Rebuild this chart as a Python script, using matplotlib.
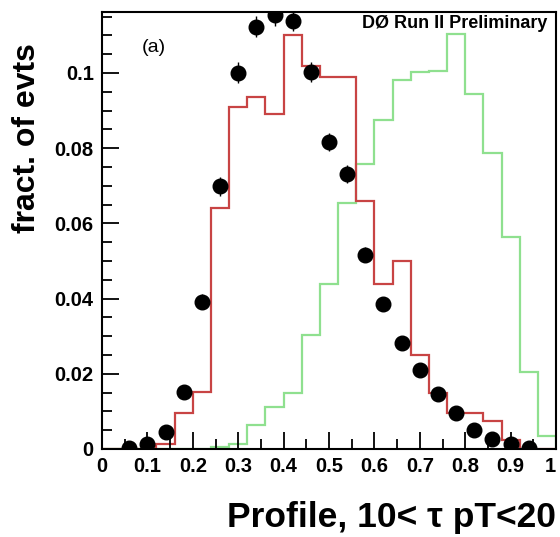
import numpy as np
import matplotlib
matplotlib.use("Agg")
import matplotlib.pyplot as plt
from matplotlib.ticker import MultipleLocator, FixedLocator

# ---- data ----
bin_edges = np.linspace(0.0, 1.0, 26)           # 25 bins of width 0.04
red_hist = [0.0, 0.0, 0.0, 0.0013, 0.0095, 0.0151, 0.0640, 0.0909, 0.0937, 0.0891,
            0.1101, 0.1019, 0.0990, 0.0990, 0.0660, 0.0439, 0.0501, 0.0250, 0.0148,
            0.0095, 0.0095, 0.0075, 0.0024, 0.0, 0.0]
green_hist = [0.0, 0.0, 0.0, 0.0, 0.0, 0.0, 0.0005, 0.0013, 0.0064, 0.0111,
              0.0148, 0.0303, 0.0439, 0.0653, 0.0758, 0.0875, 0.0981, 0.1002, 0.1006,
              0.1104, 0.0944, 0.0786, 0.0563, 0.0206, 0.0035]
pts_x = [0.06, 0.10, 0.14, 0.18, 0.22, 0.26, 0.30, 0.34, 0.38, 0.42, 0.46, 0.50,
         0.54, 0.58, 0.62, 0.66, 0.70, 0.74, 0.78, 0.82, 0.86, 0.90, 0.94]
pts_y = [0.0003, 0.0013, 0.0046, 0.0151, 0.0392, 0.0699, 0.1001, 0.1123, 0.1154,
         0.1139, 0.1003, 0.0817, 0.0731, 0.0516, 0.0386, 0.0283, 0.0210, 0.0146,
         0.0095, 0.0051, 0.0027, 0.0013, 0.0002]
pts_err = [0.0003, 0.0006, 0.0011, 0.0019, 0.0021, 0.0025, 0.0027, 0.0028, 0.0028,
           0.0027, 0.0027, 0.0024, 0.0023, 0.0020, 0.0018, 0.0016, 0.0014, 0.0012,
           0.0010, 0.0007, 0.0005, 0.0004, 0.0002]
xticks = [0, 0.1, 0.2, 0.3, 0.4, 0.5, 0.6, 0.7, 0.8, 0.9, 1.0]
xtick_labels = ["0", "0.1", "0.2", "0.3", "0.4", "0.5", "0.6", "0.7", "0.8", "0.9", "1"]
yticks = [0, 0.02, 0.04, 0.06, 0.08, 0.1]
ytick_labels = ["0", "0.02", "0.04", "0.06", "0.08", "0.1"]

FONT = ["Liberation Sans", "DejaVu Sans"]
plt.rcParams["font.family"] = FONT

fig = plt.figure(figsize=(5.6, 5.37), dpi=100)
ax = fig.add_axes([102/560, 1-449/537, (556-102)/560, (449-12)/537])

ax.stairs(green_hist, bin_edges, color="#8fe08f", linewidth=1.6, baseline=0)
ax.stairs(red_hist, bin_edges, color="#c84444", linewidth=1.6, baseline=0)
ax.errorbar(pts_x, pts_y, yerr=pts_err, fmt="o", color="black", ms=10.5,
            elinewidth=1.0, capsize=0, zorder=5)

ax.set_xlim(0, 1)
ax.set_ylim(0, 0.1162)

ax.xaxis.set_major_locator(FixedLocator(xticks))
ax.set_xticklabels(xtick_labels)
ax.xaxis.set_minor_locator(MultipleLocator(0.05))
ax.yaxis.set_major_locator(FixedLocator(yticks))
ax.set_yticklabels(ytick_labels)
ax.yaxis.set_minor_locator(MultipleLocator(0.005))

ax.tick_params(which="both", direction="in", top=False, right=False, width=1.3)
ax.tick_params(which="major", length=12, labelsize=14.5, pad=6)
ax.tick_params(which="minor", length=7)
for lab in ax.get_xticklabels() + ax.get_yticklabels():
    lab.set_fontweight("bold")
ax.get_xticklabels()[-1].set_horizontalalignment("right")
for s in ax.spines.values():
    s.set_linewidth(1.5)

fig.text(556/560, 1-517/537, "Profile, 10< \u03c4 pT<20", ha="right", va="center",
         fontsize=25.5, fontweight="bold")
fig.text(27/560, 1-43/537, "fract. of evts", rotation=90, ha="center", va="top",
         fontsize=23, fontweight="bold")
fig.text(154/560, 1-47/537, "(a)", ha="center", va="center", fontsize=14)
fig.text(547/560, 1-24/537, "D\u00d8 Run II Preliminary", ha="right", va="center",
         fontsize=13, fontweight="bold")

fig.savefig("out.png", dpi=100)
